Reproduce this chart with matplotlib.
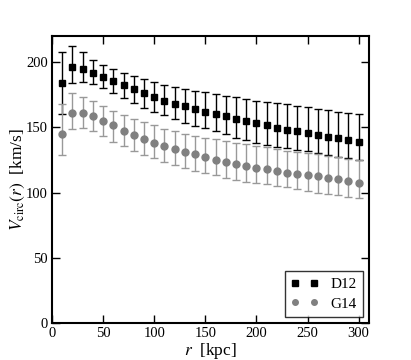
import numpy as np
import matplotlib
matplotlib.use('Agg')
import matplotlib.pyplot as plt
from matplotlib.lines import Line2D

# Rayons (kpc)
r_kpc = list(range(10, 301, 10))

# D12 : vitesse circulaire et bornes des barres d'erreur
d12_v = [184, 196.5, 195, 191.5, 188.5, 185.5, 182.5, 179.5, 176.5, 173.5,
         170.5, 168, 166, 164, 162, 160, 158.5, 156.5, 155, 153.3,
         151.5, 149.8, 148.2, 147, 145.6, 144.3, 142.8, 141.5, 140.2, 138.9]
d12_hi = [207.5, 212, 207.5, 201.5, 198, 195, 192, 189.5, 187, 184.6,
          182.3, 180.8, 179.5, 177.7, 176.9, 175.9, 174.3, 173, 171.8, 170.5,
          169.5, 168.7, 167.5, 166.6, 165.4, 164.2, 163, 162, 161, 160.2]
d12_lo = [160, 184, 185, 183, 180, 176.6, 172.3, 168.7, 164.6, 161.8,
          159.2, 156.2, 153.3, 151, 149.5, 147.2, 144.8, 142, 140, 138,
          136.4, 134.6, 133.8, 132.5, 131.5, 130, 128.7, 127.4, 126.4, 125]

# G14
g14_v = [145, 161, 161.3, 158.5, 155, 151.4, 147.4, 144, 141, 138,
         135.6, 133.5, 131.2, 129.5, 127, 125.3, 123.4, 121.9, 120.4, 119,
         117.8, 116.5, 115.2, 114.5, 113.6, 112.4, 111, 110.1, 108.9, 107.5]
g14_hi = [167.5, 176, 173.5, 170, 166, 162.5, 159.2, 156, 154, 151.5,
          149, 147, 145.1, 143.3, 142.1, 141, 139.5, 137.7, 137, 135.9,
          134.6, 133.3, 132, 131.3, 130.2, 129.2, 128.2, 126.9, 125.6, 124.8]
g14_lo = [128.5, 149, 149.5, 146.8, 143, 139, 135.6, 132, 129, 126.3,
          123.2, 120.8, 118.7, 116.5, 114.8, 113.4, 110.8, 109.6, 108.3, 107,
          106.4, 105, 104.4, 102.8, 101.5, 100, 98.9, 97.9, 96.6, 95.6]

x_ticks = [0, 50, 100, 150, 200, 250, 300]
y_ticks = [0, 50, 100, 150, 200]

plt.rcParams['font.family'] = ['Liberation Serif', 'DejaVu Serif']
plt.rcParams['mathtext.fontset'] = 'stix'

fig = plt.figure(figsize=(4.11, 3.6), dpi=100)
ax = fig.add_axes([0.1265, 0.103, 0.771, 0.797])

def asym_err(v, lo, hi):
    v = np.array(v)
    return [v - np.array(lo), np.array(hi) - v]

ax.errorbar(r_kpc, d12_v, yerr=asym_err(d12_v, d12_lo, d12_hi), fmt='s',
            color='black', ms=5, elinewidth=1.0, capsize=3, capthick=1.0)
ax.errorbar(r_kpc, g14_v, yerr=asym_err(g14_v, g14_lo, g14_hi), fmt='o',
            color='#808080', ecolor='#999999', ms=5, elinewidth=1.0,
            capsize=3, capthick=1.0)

ax.set_xlim(0, 310)
ax.set_ylim(0, 220)
ax.set_xticks(x_ticks)
ax.set_yticks(y_ticks)
ax.tick_params(direction='in', top=True, right=True, length=6, width=1,
               labelsize=10.5, pad=3)
for sp in ax.spines.values():
    sp.set_linewidth(1.5)

ax.set_xlabel(r'$r$  [kpc]', fontsize=12.5, labelpad=1)
ax.set_ylabel(r'$V_{\rm circ}(r)$  [km/s]', fontsize=12.5, labelpad=-1)

# legende sans barres d'erreur
handles = [Line2D([], [], ls='none', marker='s', color='black', ms=4),
           Line2D([], [], ls='none', marker='o', color='#808080', ms=4)]
leg = ax.legend(handles, ['D12', 'G14'], loc='lower right', numpoints=2,
                fontsize=11, fancybox=False, handlelength=1.8,
                borderpad=0.4, labelspacing=0.4, borderaxespad=0.4)
leg.get_frame().set_edgecolor('black')
leg.get_frame().set_linewidth(1.0)

fig.savefig('out.png', dpi=100)
